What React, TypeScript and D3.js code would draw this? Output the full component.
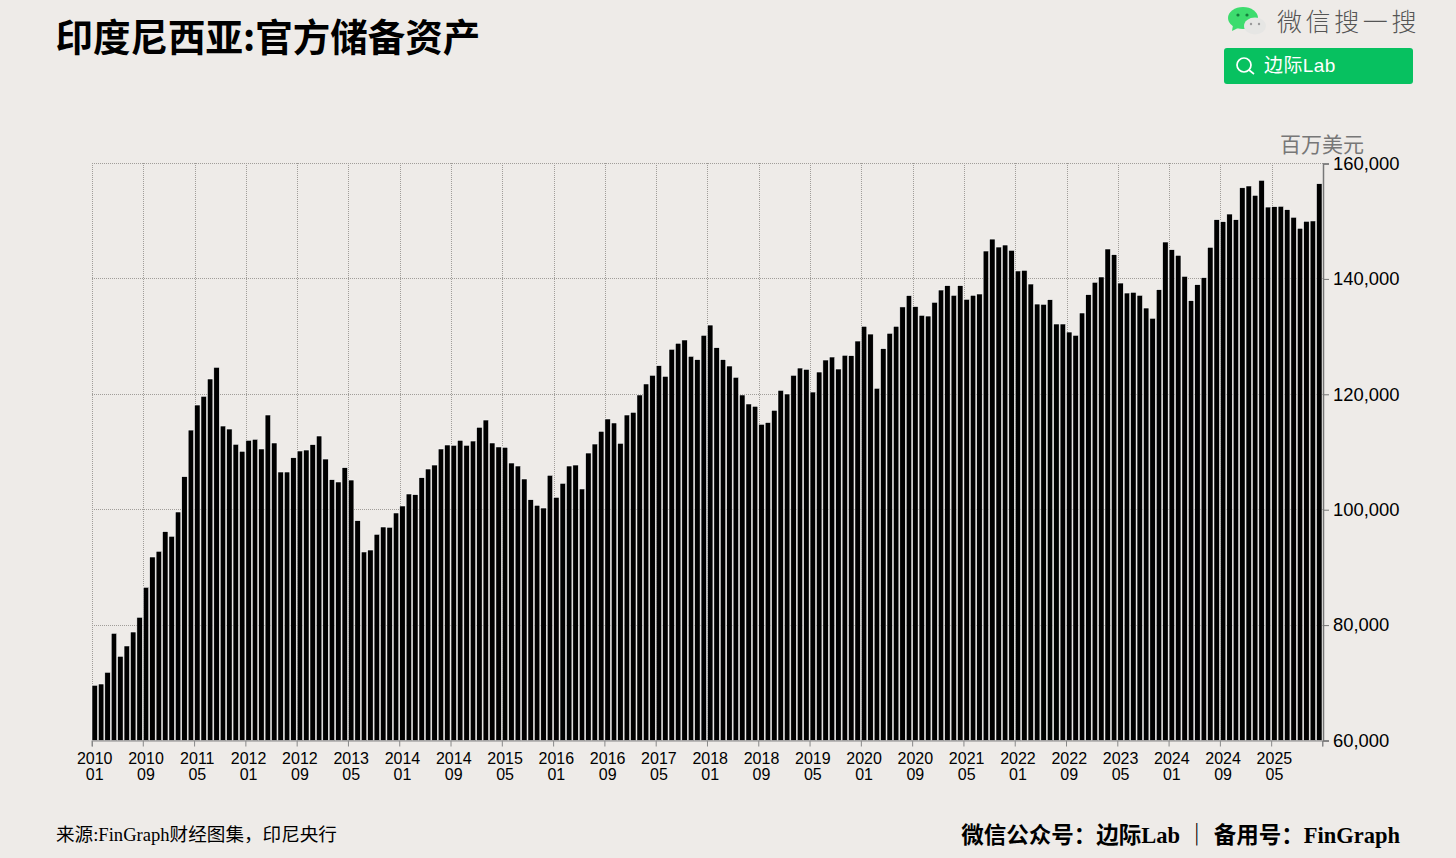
import { useEffect, useRef } from "react"
import * as d3 from "d3"

// 印尼官方储备资产,百万美元,2010-01 起的月度数据
const reserves = [
  69566, 69790, 71815, 78570, 74590, 76380, 78800, 81350, 86550, 91800, 92790, 96190,
  95390, 99600, 105720, 113800, 118140, 119650, 122650, 124670, 114500, 113980, 111330, 110120,
  112020, 112200, 110520, 116410, 111560, 106530, 106530, 109000, 110170, 110340, 111270, 112770,
  108780, 105200, 104800, 107280, 105140, 98090, 92670, 93010, 95730, 97000, 96950, 99430,
  100640, 102720, 102600, 105540, 107050, 107740, 110520, 111210, 111160, 112020, 111160, 111900,
  114280, 115540, 111560, 110870, 110810, 108090, 107570, 105320, 101730, 100760, 100290, 105960,
  102140, 104570, 107570, 107740, 103590, 109820, 111380, 113580, 115720, 115030, 111500, 116410,
  116870, 119880, 121790, 123290, 124960, 123110, 127800, 128840, 129410, 126580, 126000, 130220,
  132000, 128070, 126000, 124900, 122940, 119880, 118320, 117920, 114800, 115100, 117220, 120680,
  120050, 123290, 124550, 124320, 120390, 123860, 125940, 126460, 124380, 126760, 126690, 129230,
  131780, 130440, 121040, 127900, 130570, 131780, 135140, 137100, 135200, 133680, 133560, 135940,
  138070, 138820, 137150, 138820, 136460, 137150, 137380, 144830, 146900, 145520, 145870, 144950,
  141370, 141480, 139110, 135640, 135590, 136390, 132180, 132180, 130790, 130220, 134090, 137260,
  139410, 140330, 145180, 144190, 139280, 137550, 137670, 137150, 134950, 133170, 138120, 146390,
  145060, 144080, 140440, 136220, 138990, 140210, 145470, 150260, 149910, 151240, 150260, 155790,
  156100, 154480, 157080, 152450, 152510, 152580, 151990, 150680, 148770, 149980, 150040, 156490,
]
const months = reserves.map((_, i) => `${2010 + Math.floor(i / 12)} ${String((i % 12) + 1).padStart(2, "0")}`)
const xTicks = months.filter((_, i) => i % 8 === 0)
const yTicks = [60000, 80000, 100000, 120000, 140000, 160000]

const title = "印度尼西亚:官方储备资产"
const unit = "百万美元"
const source = "来源:FinGraph财经图集\uFF0C印尼央行"
const credit = "微信公众号\uFF1A边际Lab \uFF5C 备用号\uFF1AFinGraph"

const bg = "#eeebe8"
const sansLatin = "'Liberation Sans', 'Noto Sans CJK SC', sans-serif"
const cjk = "'Noto Sans CJK SC', sans-serif"
const serif = "'Liberation Serif', 'Noto Sans CJK SC', serif"

export default function App() {
  const svgRef = useRef<SVGSVGElement>(null)

  useEffect(() => {
    if (!svgRef.current) return
    document.body.style.margin = "0"
    document.body.style.background = bg

    const svg = d3.select(svgRef.current)
    svg.selectAll("*").remove()

    const left = 92
    const right = 1322
    const axisX = 1323
    const top = 163.5
    const bottom = 740.5

    const x = d3.scaleBand().domain(months).range([left, right]).paddingInner(0.15).paddingOuter(0)
    const y = d3.scaleLinear().domain([60000, 160000]).range([bottom, top])

    // 网格,对齐到像素才能看出点线
    const grid = svg.append("g").attr("stroke", "#a09d99").attr("stroke-dasharray", "1 1").attr("fill", "none")
    grid
      .selectAll("line.v")
      .data(xTicks)
      .join("line")
      .attr("class", "v")
      .attr("x1", (d) => Math.round(x(d) || 0) + 0.5)
      .attr("x2", (d) => Math.round(x(d) || 0) + 0.5)
      .attr("y1", 163)
      .attr("y2", 741)
    grid
      .selectAll("line.h")
      .data(yTicks.slice(1))
      .join("line")
      .attr("class", "h")
      .attr("x1", left)
      .attr("x2", axisX)
      .attr("y1", (d) => Math.floor(y(d)) + 0.5)
      .attr("y2", (d) => Math.floor(y(d)) + 0.5)

    // 柱子
    svg
      .append("g")
      .selectAll("rect")
      .data(reserves)
      .join("rect")
      .attr("x", (_, i) => x(months[i]) || 0)
      .attr("y", (d) => y(d))
      .attr("width", x.bandwidth())
      .attr("height", (d) => bottom - y(d))
      .attr("fill", "#000")
      .attr("stroke", "#fff")
      .attr("stroke-width", 0.5)

    // X 轴
    const xAxis = svg
      .append("g")
      .attr("transform", `translate(0,${bottom})`)
      .call(d3.axisBottom(x).tickValues(xTicks).tickSize(6).tickFormat(() => ""))
    xAxis.select(".domain").attr("stroke", "#888")
    xAxis.selectAll(".tick line").attr("stroke", "#888").attr("x1", -x.bandwidth() / 2).attr("x2", -x.bandwidth() / 2)
    xAxis.selectAll(".tick text").remove()
    xAxis
      .selectAll(".tick")
      .append("text")
      .attr("text-anchor", "middle")
      .attr("fill", "#000")
      .style("font-family", sansLatin)
      .style("font-size", "16px")
      .each(function (d) {
        const [yr, mo] = String(d).split(" ")
        const t = d3.select(this)
        t.append("tspan").attr("x", 0).attr("y", 23).text(yr)
        t.append("tspan").attr("x", 0).attr("y", 39).text(mo)
      })
    xAxis
      .append("line")
      .attr("x1", axisX)
      .attr("x2", axisX)
      .attr("y1", 0)
      .attr("y2", 6)
      .attr("stroke", "#888")

    // Y 轴
    const yAxis = svg
      .append("g")
      .attr("transform", `translate(${axisX},0)`)
      .call(d3.axisRight(y).tickValues(yTicks).tickSize(6).tickPadding(4).tickFormat(d3.format(",")))
    yAxis.select(".domain").attr("stroke", "#777").attr("stroke-width", 1.5)
    yAxis.selectAll(".tick line").attr("stroke", "#777")
    yAxis
      .selectAll(".tick text")
      .attr("fill", "#000")
      .style("font-family", sansLatin)
      .style("font-size", "18.4px")

    // 标题和单位
    svg
      .append("text")
      .attr("x", 55.5)
      .attr("y", 51)
      .attr("fill", "#000")
      .style("font-family", cjk)
      .style("font-weight", 700)
      .style("font-size", "37.5px")
      .text(title)
    svg
      .append("text")
      .attr("x", 1280)
      .attr("y", 152)
      .attr("fill", "#777")
      .style("font-family", cjk)
      .style("font-size", "21px")
      .text(unit)

    // 脚注
    svg
      .append("text")
      .attr("x", 56)
      .attr("y", 841)
      .attr("fill", "#000")
      .style("font-family", serif)
      .style("font-size", "18.6px")
      .text(source)
    svg
      .append("text")
      .attr("x", 1400)
      .attr("y", 843)
      .attr("text-anchor", "end")
      .attr("fill", "#000")
      .style("font-family", serif)
      .style("font-weight", 700)
      .style("font-size", "22.5px")
      .style("white-space", "pre")
      .text(credit)

    // 微信搜一搜
    const badge = svg.append("g")
    badge.append("ellipse").attr("cx", 1243).attr("cy", 18).attr("rx", 15).attr("ry", 11).attr("fill", "#3ddc6e")
    badge.append("path").attr("d", "M1233,25 L1232,31 L1240,27 Z").attr("fill", "#3ddc6e")
    badge.append("circle").attr("cx", 1238).attr("cy", 15).attr("r", 1.6).attr("fill", "#14803c")
    badge.append("circle").attr("cx", 1247).attr("cy", 15).attr("r", 1.6).attr("fill", "#14803c")
    badge.append("ellipse").attr("cx", 1255).attr("cy", 26).attr("rx", 11).attr("ry", 8.5).attr("fill", "#e6e6e4")
    badge.append("circle").attr("cx", 1251).attr("cy", 24).attr("r", 1.2).attr("fill", "#999")
    badge.append("circle").attr("cx", 1259).attr("cy", 24).attr("r", 1.2).attr("fill", "#999")
    badge
      .append("text")
      .attr("x", 1277)
      .attr("y", 31)
      .attr("fill", "#555")
      .attr("letter-spacing", 3.6)
      .style("font-family", cjk)
      .style("font-weight", 300)
      .style("font-size", "25px")
      .text("微信搜一搜")
    badge.append("rect").attr("x", 1224).attr("y", 48).attr("width", 189).attr("height", 36).attr("rx", 3).attr("fill", "#07c160")
    badge.append("circle").attr("cx", 1244).attr("cy", 65).attr("r", 7).attr("fill", "none").attr("stroke", "#fff").attr("stroke-width", 1.7)
    badge.append("line").attr("x1", 1249).attr("y1", 70).attr("x2", 1254).attr("y2", 74).attr("stroke", "#fff").attr("stroke-width", 1.7)
    badge
      .append("text")
      .attr("x", 1264)
      .attr("y", 72)
      .attr("fill", "#fff")
      .attr("letter-spacing", 0.4)
      .style("font-family", sansLatin)
      .style("font-size", "19px")
      .text("边际Lab")
  }, [])

  return <svg ref={svgRef} width={1456} height={858} style={{ display: "block", background: bg }} />
}
